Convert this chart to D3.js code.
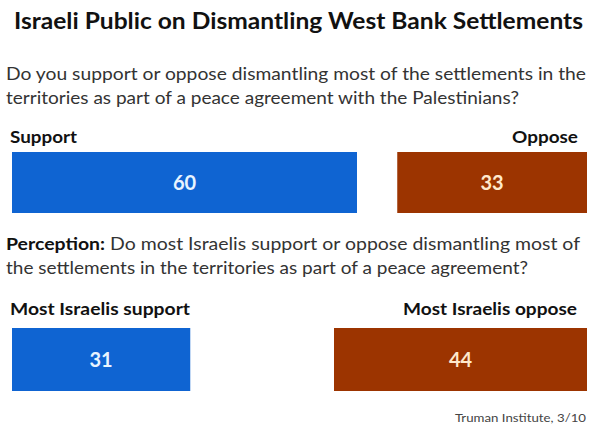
<!DOCTYPE html>
<html><head><meta charset="utf-8">
<script src="https://cdn.jsdelivr.net/npm/d3@7"></script>
<style>body{margin:0;background:#fff}svg{display:block}</style>
</head><body><div id="chart"></div>
<script>
const title = "Israeli Public on Dismantling West Bank Settlements";
const q1Lines = ["Do you support or oppose dismantling most of the settlements in the", "territories as part of a peace agreement with the Palestinians?"];
const q2Lead = "Perception:";
const q2Lines = [" Do most Israelis support or oppose dismantling most of", "the settlements in the territories as part of a peace agreement?"];
const categories1 = ["Support", "Oppose"];
const values1 = [60, 33];
const categories2 = ["Most Israelis support", "Most Israelis oppose"];
const values2 = [31, 44];
const source = "Truman Institute, 3/10";

const W = 596, H = 428;
const colors = ["#0f64d2", "#9c3400"];
const svg = d3.select("#chart").append("svg").attr("width", W).attr("height", H);
const font = "Lato, 'Open Sans', sans-serif";
const left = 12, right = 587;
const x = d3.scaleLinear().domain([0, 100]).range([0, right - left]);

function fit(sel, len) { return sel.attr("textLength", len).attr("lengthAdjust", "spacingAndGlyphs"); }

fit(svg.append("text").attr("x", 14).attr("y", 29)
  .attr("font-family", font).attr("font-weight", "bold").attr("font-size", 22).attr("fill", "#111").text(title), 569);

const q1Len = [580, 513];
q1Lines.forEach((t, i) => fit(svg.append("text").attr("x", 6).attr("y", 80 + i * 24)
  .attr("font-family", font).attr("font-size", 17.5).attr("fill", "#333").text(t), q1Len[i]));

const q2 = svg.append("text").attr("x", 6).attr("y", 250).attr("font-family", font).attr("font-size", 17.5).attr("fill", "#333");
q2.append("tspan").attr("font-weight", "bold").attr("fill", "#111").text(q2Lead);
q2.append("tspan").text(q2Lines[0]);
fit(q2, 574);
fit(svg.append("text").attr("x", 6).attr("y", 274).attr("font-family", font).attr("font-size", 17.5).attr("fill", "#333").text(q2Lines[1]), 522);

function drawGroup(cats, vals, yTop, h, labelY, spans) {
  const g = svg.append("g");
  const rects = vals.map((v, i) => {
    const w = x(v);
    const x0 = i === 0 ? left : right - w;
    return {x0, w, v, i, c: cats[i]};
  });
  g.selectAll("rect").data(rects).join("rect")
    .attr("x", d => d.x0).attr("y", yTop).attr("width", d => d.w).attr("height", h)
    .attr("fill", d => colors[d.i]);
  g.selectAll("text.val").data(rects).join("text").attr("class", "val")
    .attr("x", d => d.x0 + d.w / 2).attr("y", yTop + h / 2 + 7).attr("text-anchor", "middle")
    .attr("font-family", font).attr("font-weight", "bold").attr("font-size", 20)
    .attr("fill", d => d.i === 0 ? "#e8f4ff" : "#ffe9cc").text(d => d.v);
  g.selectAll("text.cat").data(rects).join("text").attr("class", "cat")
    .attr("x", d => spans[d.i][0]).attr("y", labelY)
    .attr("font-family", font).attr("font-weight", "bold").attr("font-size", 17).attr("fill", "#111")
    .attr("textLength", d => spans[d.i][1] - spans[d.i][0]).attr("lengthAdjust", "spacingAndGlyphs")
    .text(d => d.c);
}
drawGroup(categories1, values1, 152, 61, 143, [[10, 77], [512, 578]]);
drawGroup(categories2, values2, 328, 63, 315, [[10, 190], [403, 577]]);

fit(svg.append("text").attr("x", 455).attr("y", 422)
  .attr("font-family", font).attr("font-size", 12).attr("fill", "#444").text(source), 131);
</script></body></html>
